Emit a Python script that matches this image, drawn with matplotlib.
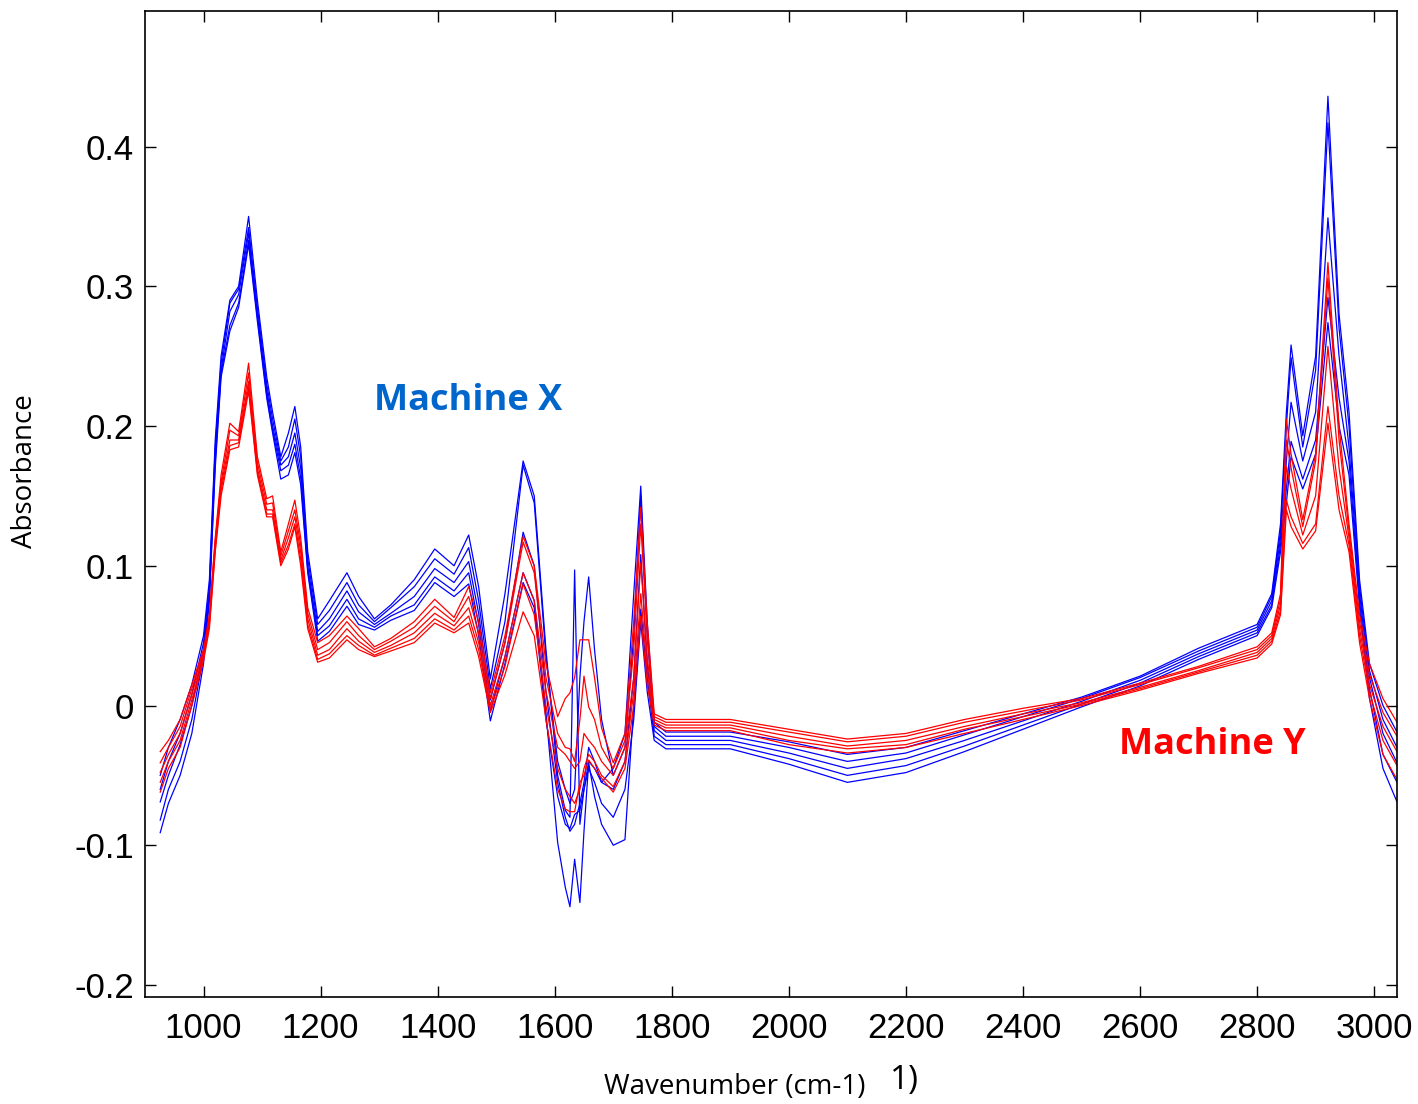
# plot.py
# FTIR absorbance spectra measured on two machines (X in blue, Y in red)

import matplotlib
matplotlib.use('Agg')
import matplotlib.pyplot as plt
import numpy as np

# shared wavenumber grid (cm-1)
wavenumber = [926, 940, 960, 980, 1000, 1010, 1020, 1030, 1045, 1060,
              1077, 1092, 1108, 1118, 1132, 1145, 1156, 1166, 1178, 1195,
              1215, 1245, 1265, 1292, 1320, 1360, 1395, 1428, 1453, 1470,
              1490, 1515, 1546, 1565, 1585, 1605, 1618, 1626, 1634, 1643,
              1650, 1658, 1668, 1680, 1700, 1720, 1735, 1747, 1758, 1770,
              1790, 1900, 2000, 2100, 2200, 2300, 2400, 2500, 2600, 2700,
              2800, 2825, 2840, 2850, 2858, 2878, 2900, 2921, 2940, 2957,
              2975, 2992, 3015, 3039]

# Machine X spectra
machineX_1 = [-0.050, -0.030, -0.010, 0.015, 0.050, 0.090, 0.190, 0.250, 0.290, 0.300,
              0.350, 0.290, 0.235, 0.210, 0.178, 0.195, 0.214, 0.185, 0.110, 0.062,
              0.075, 0.095, 0.078, 0.062, 0.072, 0.090, 0.112, 0.100, 0.122, 0.085,
              0.019, 0.080, 0.175, 0.150, 0.040, -0.050, -0.075, -0.080, 0.097, -0.085,
              -0.060, -0.040, -0.045, -0.055, -0.045, -0.020, 0.080, 0.157, 0.060, -0.012,
              -0.019, -0.019, -0.026, -0.035, -0.030, -0.018, -0.006, 0.006, 0.021, 0.041,
              0.058, 0.080, 0.130, 0.210, 0.258, 0.193, 0.250, 0.436, 0.280, 0.210,
              0.090, 0.030, 0.000, -0.019]
machineX_2 = [-0.060, -0.040, -0.020, 0.008, 0.045, 0.085, 0.185, 0.245, 0.288, 0.298,
              0.342, 0.285, 0.230, 0.205, 0.175, 0.185, 0.205, 0.178, 0.105, 0.058,
              0.068, 0.088, 0.072, 0.060, 0.070, 0.085, 0.105, 0.094, 0.113, 0.075,
              0.012, 0.060, 0.172, 0.145, 0.035, -0.040, -0.060, -0.070, -0.060, 0.020,
              0.060, 0.092, 0.040, -0.010, -0.050, -0.030, 0.050, 0.150, 0.050, -0.015,
              -0.022, -0.022, -0.030, -0.040, -0.034, -0.021, -0.008, 0.005, 0.020, 0.039,
              0.056, 0.078, 0.125, 0.200, 0.249, 0.185, 0.240, 0.417, 0.270, 0.200,
              0.085, 0.025, -0.010, -0.030]
machineX_3 = [-0.069, -0.050, -0.028, 0.000, 0.040, 0.080, 0.180, 0.240, 0.282, 0.294,
              0.338, 0.280, 0.226, 0.200, 0.172, 0.178, 0.195, 0.170, 0.100, 0.053,
              0.062, 0.082, 0.067, 0.058, 0.066, 0.078, 0.098, 0.088, 0.103, 0.066,
              0.004, 0.045, 0.124, 0.100, 0.010, -0.055, -0.080, -0.090, -0.085, -0.070,
              -0.055, -0.030, -0.040, -0.055, -0.060, -0.040, 0.020, 0.108, 0.030, -0.018,
              -0.025, -0.025, -0.034, -0.045, -0.038, -0.025, -0.011, 0.003, 0.018, 0.037,
              0.054, 0.075, 0.120, 0.175, 0.217, 0.175, 0.210, 0.349, 0.250, 0.185,
              0.080, 0.020, -0.020, -0.041]
machineX_4 = [-0.082, -0.060, -0.040, -0.010, 0.035, 0.078, 0.175, 0.238, 0.272, 0.288,
              0.333, 0.278, 0.222, 0.197, 0.168, 0.172, 0.187, 0.163, 0.097, 0.050,
              0.057, 0.076, 0.062, 0.056, 0.064, 0.072, 0.092, 0.082, 0.095, 0.058,
              -0.004, 0.035, 0.095, 0.075, -0.005, -0.098, -0.130, -0.144, -0.110, -0.141,
              -0.090, -0.041, -0.065, -0.085, -0.100, -0.096, 0.000, 0.069, 0.020, -0.022,
              -0.028, -0.028, -0.038, -0.050, -0.043, -0.029, -0.014, 0.001, 0.016, 0.035,
              0.052, 0.072, 0.115, 0.155, 0.189, 0.162, 0.190, 0.292, 0.220, 0.175,
              0.075, 0.012, -0.035, -0.055]
machineX_5 = [-0.091, -0.070, -0.050, -0.020, 0.030, 0.075, 0.170, 0.235, 0.268, 0.285,
              0.330, 0.275, 0.220, 0.195, 0.162, 0.165, 0.181, 0.158, 0.095, 0.046,
              0.053, 0.071, 0.058, 0.054, 0.061, 0.068, 0.088, 0.078, 0.087, 0.050,
              -0.011, 0.030, 0.088, 0.070, -0.010, -0.065, -0.085, -0.088, -0.078, -0.075,
              -0.060, -0.045, -0.055, -0.070, -0.080, -0.060, -0.010, 0.060, 0.010, -0.025,
              -0.031, -0.031, -0.042, -0.055, -0.048, -0.033, -0.017, -0.001, 0.014, 0.033,
              0.050, 0.070, 0.110, 0.145, 0.178, 0.155, 0.180, 0.274, 0.200, 0.165,
              0.070, 0.005, -0.045, -0.069]

# Machine Y spectra
machineY_1 = [-0.033, -0.025, -0.010, 0.015, 0.040, 0.065, 0.120, 0.165, 0.202, 0.196,
              0.245, 0.178, 0.148, 0.150, 0.110, 0.130, 0.147, 0.120, 0.070, 0.045,
              0.050, 0.064, 0.055, 0.042, 0.048, 0.060, 0.076, 0.063, 0.085, 0.060,
              0.009, 0.050, 0.121, 0.100, 0.030, -0.008, 0.005, 0.009, 0.020, 0.047,
              0.047, 0.047, 0.020, -0.016, -0.041, -0.020, 0.060, 0.142, 0.060, -0.006,
              -0.010, -0.010, -0.017, -0.024, -0.020, -0.010, -0.002, 0.005, 0.016, 0.028,
              0.042, 0.052, 0.080, 0.205, 0.180, 0.133, 0.180, 0.317, 0.200, 0.130,
              0.065, 0.030, 0.005, -0.012]
machineY_2 = [-0.041, -0.030, -0.015, 0.012, 0.038, 0.063, 0.118, 0.160, 0.197, 0.193,
              0.238, 0.174, 0.144, 0.145, 0.107, 0.125, 0.140, 0.115, 0.066, 0.040,
              0.045, 0.060, 0.050, 0.040, 0.046, 0.056, 0.071, 0.060, 0.078, 0.052,
              0.005, 0.045, 0.117, 0.095, 0.020, -0.020, -0.030, -0.031, -0.040, -0.010,
              0.021, -0.001, -0.010, -0.030, -0.045, -0.025, 0.040, 0.130, 0.050, -0.008,
              -0.012, -0.012, -0.019, -0.026, -0.022, -0.012, -0.004, 0.004, 0.015, 0.027,
              0.040, 0.050, 0.076, 0.190, 0.170, 0.128, 0.175, 0.306, 0.190, 0.125,
              0.060, 0.022, -0.005, -0.022]
machineY_3 = [-0.048, -0.035, -0.020, 0.008, 0.036, 0.060, 0.115, 0.157, 0.190, 0.190,
              0.232, 0.170, 0.140, 0.140, 0.104, 0.120, 0.135, 0.110, 0.062, 0.036,
              0.040, 0.055, 0.046, 0.038, 0.043, 0.052, 0.066, 0.057, 0.070, 0.045,
              0.000, 0.035, 0.095, 0.075, 0.010, -0.030, -0.035, -0.040, -0.045, -0.040,
              -0.020, -0.025, -0.030, -0.040, -0.050, -0.030, 0.020, 0.102, 0.035, -0.010,
              -0.014, -0.014, -0.022, -0.029, -0.025, -0.015, -0.006, 0.002, 0.013, 0.025,
              0.038, 0.048, 0.072, 0.171, 0.155, 0.122, 0.150, 0.257, 0.170, 0.120,
              0.055, 0.015, -0.015, -0.033]
machineY_4 = [-0.055, -0.040, -0.025, 0.004, 0.034, 0.058, 0.112, 0.154, 0.186, 0.188,
              0.228, 0.167, 0.137, 0.137, 0.102, 0.115, 0.130, 0.105, 0.058, 0.033,
              0.037, 0.050, 0.043, 0.036, 0.041, 0.048, 0.062, 0.054, 0.064, 0.040,
              -0.003, 0.028, 0.087, 0.065, 0.000, -0.045, -0.060, -0.065, -0.070, -0.060,
              -0.045, -0.035, -0.040, -0.050, -0.058, -0.040, 0.010, 0.080, 0.025, -0.012,
              -0.016, -0.016, -0.025, -0.031, -0.028, -0.017, -0.008, 0.001, 0.012, 0.024,
              0.036, 0.046, 0.068, 0.147, 0.135, 0.116, 0.130, 0.214, 0.150, 0.115,
              0.050, 0.010, -0.025, -0.043]
machineY_5 = [-0.062, -0.045, -0.030, 0.000, 0.032, 0.055, 0.110, 0.150, 0.183, 0.185,
              0.225, 0.165, 0.135, 0.135, 0.100, 0.112, 0.128, 0.100, 0.055, 0.031,
              0.034, 0.047, 0.040, 0.035, 0.039, 0.045, 0.059, 0.052, 0.059, 0.035,
              -0.005, 0.022, 0.067, 0.050, -0.010, -0.060, -0.074, -0.076, -0.076, -0.055,
              -0.050, -0.039, -0.045, -0.052, -0.062, -0.045, 0.000, 0.064, 0.015, -0.014,
              -0.018, -0.018, -0.028, -0.034, -0.030, -0.020, -0.010, 0.000, 0.011, 0.023,
              0.034, 0.044, 0.065, 0.140, 0.128, 0.112, 0.125, 0.202, 0.140, 0.110,
              0.045, 0.005, -0.035, -0.053]

spectraX = [machineX_1, machineX_2, machineX_3, machineX_4, machineX_5]
spectraY = [machineY_1, machineY_2, machineY_3, machineY_4, machineY_5]

xticks = [1000, 1200, 1400, 1600, 1800, 2000, 2200, 2400, 2600, 2800, 3000]
yticks = [-0.2, -0.1, 0, 0.1, 0.2, 0.3, 0.4]
yticklabels = ['-0.2', '-0.1', '0', '0.1', '0.2', '0.3', '0.4']

# figure
fig = plt.figure(figsize=(14.18, 11.04), dpi=100)
ax = fig.add_axes([145/1418, 1 - 997/1104, (1397-145)/1418, (997-11)/1104])

for s in spectraX:
    ax.plot(wavenumber, s, color='#0000ff', lw=0.9)
for s in spectraY:
    ax.plot(wavenumber, s, color='#ff0000', lw=0.9)

ax.set_xlim(900, 3039)
ax.set_ylim(-0.2086, 0.497)
ax.set_xticks(xticks)
ax.set_yticks(yticks)
ax.set_yticklabels(yticklabels)
ax.tick_params(direction='in', length=8, width=1.0, top=True, right=True,
               labelsize=25, pad=8)
ax.tick_params(axis='x', pad=11)
for lab in ax.get_xticklabels() + ax.get_yticklabels():
    lab.set_fontfamily('Liberation Sans')
for sp in ax.spines.values():
    sp.set_linewidth(1.2)

# axis labels placed as in the original figure
fig.text(25/1418, 1 - 471/1104, 'Absorbance', fontsize=20, family='Open Sans',
         rotation=90, ha='center', va='center')
fig.text(735/1418, 1 - 1087/1104, 'Wavenumber (cm-1)', fontsize=20,
         family='Open Sans', ha='center', va='center')
fig.text(904/1418, 1 - 1080/1104, '1)', fontsize=24,
         family='Open Sans', ha='center', va='center')

ax.text(1452, 0.218, 'Machine X', color='#0066cc', fontsize=26,
        fontweight='bold', family='Open Sans', ha='center', va='center')
ax.text(2723, -0.028, 'Machine Y', color='#ff0000', fontsize=26,
        fontweight='bold', family='Open Sans', ha='center', va='center')

fig.savefig('out.png', dpi=100)
